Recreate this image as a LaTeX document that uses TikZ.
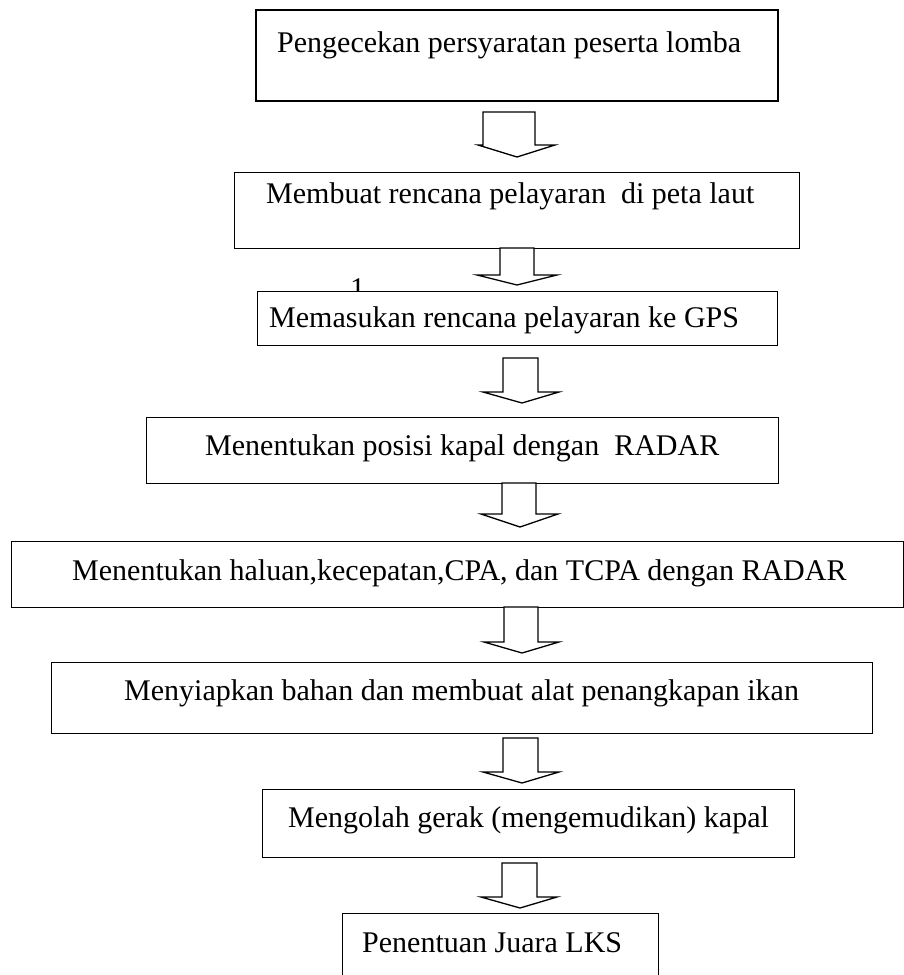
\documentclass[tikz,border=0pt]{standalone}
\usepackage{fontspec}
\setmainfont{Liberation Serif}
\tikzset{
  box/.style={draw=black, line width=1.3pt, fill=white, inner sep=0pt, anchor=north west},
  thickbox/.style={box, line width=2.4pt},
  txt/.style={inner sep=0pt, anchor=base west, font=\fontsize{30}{36}\selectfont},
  barrow/.style={draw=black, line width=1.3pt, fill=white, line join=miter},
}
\newcommand{\blkarrow}[8]{%
  \draw[barrow] (#1,#3) -- (#1,#4) -- (#5,#4) -- (#7,#8) -- (#6,#4) -- (#2,#4) -- (#2,#3) -- cycle;}
\begin{document}
\begin{tikzpicture}[x=1pt,y=-1pt]
  \useasboundingbox (0,0) rectangle (904,975);
  \fill[white] (0,0) rectangle (904,975);
  \clip (0,0) rectangle (904,975);
  % boxes
  \node[thickbox, minimum width=522pt, minimum height=91pt] (b1) at (255,9) {};
  \node[box, minimum width=565pt, minimum height=76pt] (b2) at (234,172) {};
  \node[txt] (n1) at (350,298) {1};
  \node[box, minimum width=520pt, minimum height=54pt] (b3) at (257,291) {};
  \node[box, minimum width=632pt, minimum height=66pt] (b4) at (146,417) {};
  \node[box, minimum width=892pt, minimum height=66pt] (b5) at (11,541) {};
  \node[box, minimum width=821pt, minimum height=71pt] (b6) at (51,662) {};
  \node[box, minimum width=532pt, minimum height=68pt] (b7) at (262,789) {};
  \node[box, minimum width=316pt, minimum height=90pt] (b8) at (342,913) {};
  % texts
  \node[txt] (t1) at (277,52) {Pengecekan persyaratan peserta lomba};
  \node[txt] (t2) at (266,203) {Membuat rencana pelayaran\ \ di peta laut};
  \node[txt] (t3) at (269,327) {Memasukan rencana pelayaran ke GPS};
  \node[txt] (t4) at (205,455) {Menentukan posisi kapal dengan\ \ RADAR};
  \node[txt] (t5) at (72,580) {Menentukan haluan,kecepatan,CPA, dan TCPA dengan RADAR};
  \node[txt] (t6) at (124,700) {Menyiapkan bahan dan membuat alat penangkapan ikan};
  \node[txt] (t7) at (288,827) {Mengolah gerak (mengemudikan) kapal};
  \node[txt] (t8) at (362,952) {Penentuan Juara LKS};
  % block arrows
  \blkarrow{483}{535}{112}{145}{478}{555}{517}{157}
  \blkarrow{500}{534}{248}{275}{477}{557}{517}{285}
  \blkarrow{503}{538}{358}{392}{483}{559}{522}{403}
  \blkarrow{502}{536}{483}{514}{481}{558}{520}{527}
  \blkarrow{504}{538}{607}{642}{484}{559}{522}{653}
  \blkarrow{503}{538}{738}{772}{483}{559}{522}{783}
  \blkarrow{502}{537}{863}{897}{481}{557}{520}{908}
\end{tikzpicture}
\end{document}
